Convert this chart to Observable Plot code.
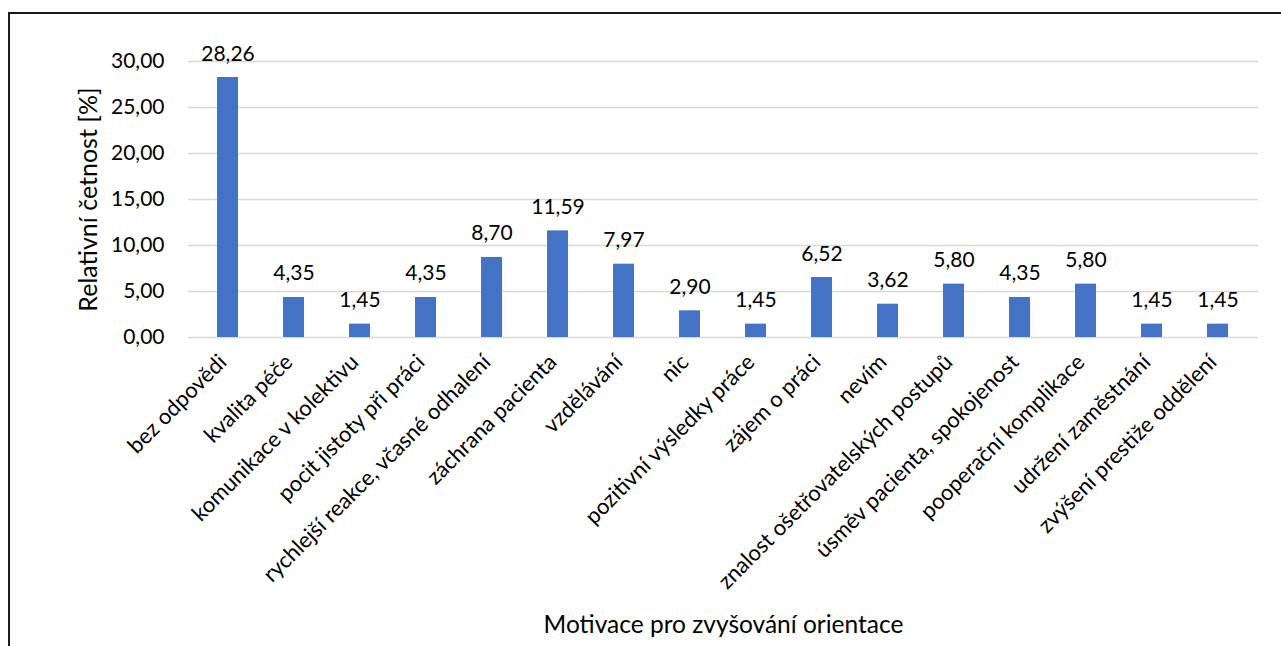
<!DOCTYPE html>
<html>
<head>
<meta charset="utf-8">
<script src="https://cdn.jsdelivr.net/npm/d3@7"></script>
<script src="https://cdn.jsdelivr.net/npm/@observablehq/plot@0.6"></script>
<style>
  html, body { margin: 0; padding: 0; background: #fff; overflow: hidden; }
  #wrap { position: relative; width: 1281px; height: 646px; overflow: hidden; }
  #frame { position: absolute; left: 8px; top: 12px; width: 1400px; height: 800px; border: 2px solid #1a1a1a; box-sizing: border-box; pointer-events: none; }
  #chart { position: absolute; left: 0; top: 0; }
</style>
</head>
<body>
<div id="wrap"><div id="chart"></div><div id="frame"></div></div>
<script>
const categories = [
  "bez odpovědi",
  "kvalita péče",
  "komunikace v kolektivu",
  "pocit jistoty při práci",
  "rychlejší reakce, včasné odhalení",
  "záchrana pacienta",
  "vzdělávání",
  "nic",
  "pozitivní výsledky práce",
  "zájem o práci",
  "nevím",
  "znalost ošetřovatelských postupů",
  "úsměv pacienta, spokojenost",
  "pooperační komplikace",
  "udržení zaměstnání",
  "zvýšení prestiže oddělení"
];
const values = [28.26, 4.35, 1.45, 4.35, 8.70, 11.59, 7.97, 2.90, 1.45, 6.52, 3.62, 5.80, 4.35, 5.80, 1.45, 1.45];
const yTicks = [0, 5, 10, 15, 20, 25, 30];
const yLabel = "Relativní četnost [%]";
const xLabel = "Motivace pro zvyšování orientace";

const data = categories.map((c, i) => ({category: c, value: values[i]}));
const fmt = d => d.toFixed(2).replace(".", ",");

const chart = Plot.plot({
  width: 1281,
  height: 646,
  marginLeft: 188,
  marginRight: 23,
  marginTop: 61,
  marginBottom: 309,
  style: {fontFamily: "Lato, 'Open Sans', sans-serif", fontSize: "21px", color: "#000", background: "transparent"},
  x: {domain: categories, paddingInner: 0.68, paddingOuter: 0.34},
  y: {domain: [0, 30]},
  marks: [
    Plot.gridY(yTicks, {stroke: "#d9d9d9", strokeOpacity: 1, strokeWidth: 1.5}),
    Plot.axisY({ticks: yTicks, tickFormat: fmt, tickSize: 0, tickPadding: 24, fontSize: 21, label: null}),
    Plot.text([yLabel], {frameAnchor: "left", rotate: -90, dx: -100, textAnchor: "middle", lineAnchor: "middle", fontSize: 25, fill: "#000"}),
    Plot.barY(data, {x: "category", y: "value", fill: "#4472C4"}),
    Plot.text(data, {x: "category", y: "value", text: d => fmt(d.value), lineAnchor: "bottom", dy: -17, fontSize: 21, fill: "#000"}),
    Plot.axisX({tickRotate: -45, tickSize: 0, tickPadding: 21, dx: -5, fontSize: 22, label: null}),
    Plot.text([xLabel], {frameAnchor: "bottom", dx: 0, dy: 288, lineAnchor: "middle", fontSize: 24.5, fill: "#000"})
  ]
});
document.getElementById("chart").appendChild(chart);
</script>
</body>
</html>
